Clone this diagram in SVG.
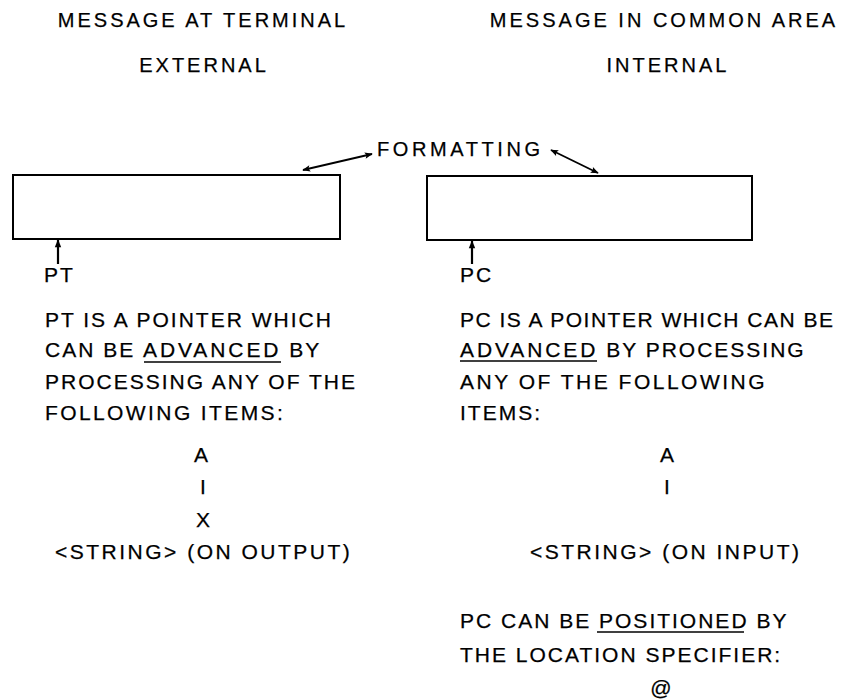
<svg xmlns="http://www.w3.org/2000/svg" width="850" height="699" viewBox="0 0 850 699">
  <style>
    text { fill: #000; stroke: #000; stroke-width: 0.25; }
    .head { font-family: "Liberation Sans", Arial, sans-serif; font-size: 20px; letter-spacing: 3px; }
    .body { font-family: "Liberation Sans", Arial, sans-serif; font-size: 21px; letter-spacing: 2px; }
    .wide { letter-spacing: 2.9px; }
    .box { fill: #fff; stroke: #000; stroke-width: 2; }
    .conn { stroke: #000; stroke-width: 1.8; fill: none; }
    .ul { stroke: #000; stroke-width: 1.5; }
  </style>
  <defs>
    <marker id="ah" viewBox="0 0 10 10" refX="9" refY="5" markerWidth="12" markerHeight="8" orient="auto-start-reverse" markerUnits="userSpaceOnUse">
      <path d="M0,1 L10,5 L0,9 L2,5 Z" fill="#000"/>
    </marker>
    <marker id="ahp" viewBox="0 0 10 10" refX="9" refY="5" markerWidth="10" markerHeight="8" orient="auto" markerUnits="userSpaceOnUse">
      <path d="M0,1 L10,5 L0,9 Z" fill="#000"/>
    </marker>
  </defs>
  <rect width="850" height="699" fill="#fff"/>

  <!-- column headings -->
  <g id="heading-external">
    <text class="head" x="203" y="27" text-anchor="middle">MESSAGE AT TERMINAL</text>
    <text class="head" x="204" y="72" text-anchor="middle">EXTERNAL</text>
  </g>
  <g id="heading-internal">
    <text class="head" x="664" y="27" text-anchor="middle">MESSAGE IN COMMON AREA</text>
    <text class="head" x="668" y="72" text-anchor="middle">INTERNAL</text>
  </g>

  <!-- message buffers -->
  <g id="buffer-terminal">
    <rect class="box" x="13" y="175" width="327" height="64"/>
  </g>
  <g id="buffer-common">
    <rect class="box" x="427" y="176" width="325" height="64"/>
  </g>

  <g id="label-formatting">
    <text class="body" x="377" y="156" style="font-size:20px;letter-spacing:3.6px">FORMATTING</text>
  </g>

  <g id="pointer-pt">
    <text class="body" x="44" y="282">PT</text>
  </g>
  <g id="pointer-pc">
    <text class="body" x="460" y="282">PC</text>
  </g>

  <!-- connectors -->
  <g id="connectors">
    <line class="conn" x1="372" y1="154" x2="303" y2="170" marker-start="url(#ah)" marker-end="url(#ah)"/>
    <line class="conn" x1="551" y1="150" x2="598" y2="173" marker-start="url(#ah)" marker-end="url(#ah)"/>
    <line class="conn" x1="58" y1="264" x2="58" y2="240" marker-end="url(#ahp)" style="stroke-width:2.2"/>
    <line class="conn" x1="472" y1="264" x2="472" y2="241" marker-end="url(#ahp)" style="stroke-width:2.2"/>
  </g>

  <!-- description of PT -->
  <g id="text-pt">
    <text class="body" x="45" y="327">PT IS A POINTER WHICH</text>
    <text class="body" x="45" y="357">CAN BE <tspan class="wide">ADVANCED</tspan> BY</text>
    <line class="ul" x1="144" y1="362" x2="281" y2="362"/>
    <text class="body" x="45" y="389">PROCESSING ANY OF THE</text>
    <text class="body" x="45" y="420" style="letter-spacing:2.4px">FOLLOWING ITEMS:</text>
    <text class="body" x="202" y="462" text-anchor="middle">A</text>
    <text class="body" x="204" y="494" text-anchor="middle">I</text>
    <text class="body" x="204" y="527" text-anchor="middle">X</text>
    <text class="body" x="55" y="559" style="letter-spacing:2.5px">&lt;STRING&gt; (ON OUTPUT)</text>
  </g>

  <!-- description of PC -->
  <g id="text-pc">
    <text class="body" x="460" y="327" style="letter-spacing:1.5px">PC IS A POINTER WHICH CAN BE</text>
    <text class="body" x="460" y="357"><tspan class="wide">ADVANCED</tspan> BY PROCESSING</text>
    <line class="ul" x1="460" y1="361" x2="597" y2="361"/>
    <text class="body" x="460" y="389" style="letter-spacing:2.5px">ANY OF THE FOLLOWING</text>
    <text class="body" x="460" y="420">ITEMS:</text>
    <text class="body" x="668" y="462" text-anchor="middle">A</text>
    <text class="body" x="668" y="494" text-anchor="middle">I</text>
    <text class="body" x="530" y="559" style="letter-spacing:2.5px">&lt;STRING&gt; (ON INPUT)</text>
    <text class="body" x="460" y="628">PC CAN BE POSITIONED BY</text>
    <line class="ul" x1="597" y1="632" x2="744" y2="632"/>
    <text class="body" x="460" y="662">THE LOCATION SPECIFIER:</text>
    <text class="body" x="662" y="695" text-anchor="middle">@</text>
  </g>
</svg>
